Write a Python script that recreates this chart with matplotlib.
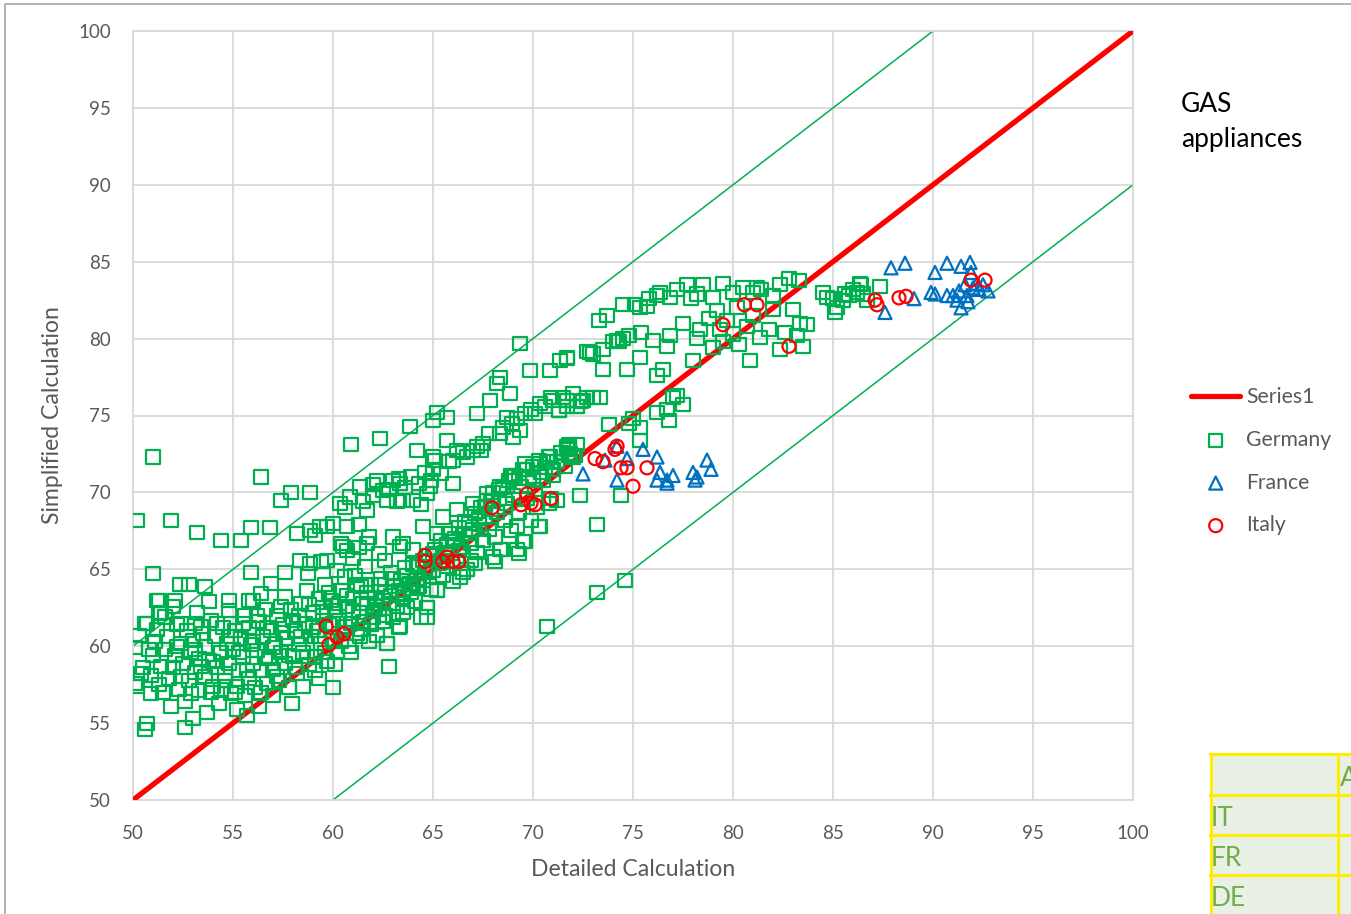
import matplotlib
matplotlib.use("Agg")
import matplotlib.pyplot as plt
from matplotlib.patches import Rectangle
from matplotlib.lines import Line2D
import numpy as np

plt.rcParams['font.family'] = ['Lato', 'DejaVu Sans']

# ---------------- data ----------------
ref_line_x = [50, 100]
ref_line_y = [50, 100]
upper_band_x = [50, 90]
upper_band_y = [60, 100]
lower_band_x = [60, 100]
lower_band_y = [50, 90]

de_blob_a = [(50.1,57.6),(50.2,57.4),(50.1,59.9),(50.3,60.7),(50.5,58.6),(50.6,61.5),(50.7,55.0),(50.6,54.6),
             (50.9,58.1),(51.0,59.4),(51.1,60.3),(51.2,61.1),(50.9,56.9),(51.3,57.5),(51.4,58.7),(51.3,62.1),
             (51.2,63.0),(51.6,59.8),(51.7,60.6),(51.8,57.9),(51.9,56.1),(52.0,58.6),(52.1,59.4),(52.2,61.4),
             (52.0,62.6),(52.3,57.2),(52.4,60.2),(52.5,58.9),(52.6,54.7),(52.6,56.4),(52.7,61.0),(52.9,59.6),
             (52.8,57.8),(53.0,55.3),(53.0,60.4),(53.1,58.3),(53.2,62.2),(53.3,57.1),(53.3,59.2),(53.4,61.3)]
de_blob_b = [(53.6,58.0),(53.6,60.0),(53.7,55.7),(53.8,59.1),(53.9,61.7),(53.8,62.9),(54.0,57.4),(54.1,60.6),
             (54.2,58.6),(54.3,56.3),(54.4,59.6),(54.5,61.2),(54.6,57.8),(54.7,60.2),(54.8,58.9),(54.8,62.3),
             (54.9,56.9),(55.0,59.8),(55.1,61.0),(55.2,57.4),(55.2,55.9),(55.3,58.4),(55.4,60.5),(55.5,59.3),
             (55.6,62.0),(55.6,56.8),(55.7,55.5),(55.8,57.9),(55.8,61.2),(55.9,60.1),(56.0,58.9),(56.0,63.0)]
de_blob_c = [(56.1,57.3),(56.2,59.7),(56.3,61.6),(56.3,56.1),(56.4,58.4),(56.5,60.6),(56.6,62.4),(56.7,57.6),
             (56.8,59.2),(56.9,61.0),(57.0,58.5),(57.0,56.8),(57.1,60.2),(57.2,62.0),(57.3,57.8),(57.4,59.6),
             (57.5,61.4),(57.6,58.9),(57.6,63.2),(57.7,60.5),(57.8,57.3),(57.9,62.4),(58.0,59.3),(57.95,56.3),
             (58.1,61.0),(58.2,58.2),(58.3,60.1),(58.4,62.8),(58.5,57.4),(58.5,59.6),(58.6,61.5),(58.7,63.6),
             (58.8,58.8),(58.9,60.6),(59.0,62.2)]
de_blob_d = [(59.1,59.3),(59.2,61.0),(59.3,63.1),(59.3,57.9),(59.4,60.2),(59.5,62.0),(59.6,64.0),(59.7,59.0),
             (59.8,61.4),(59.9,63.0),(60.0,57.3),(60.0,60.4),(60.1,62.3),(60.2,59.6),(60.3,61.7),(60.4,63.6),
             (60.5,60.9),(60.6,64.5),(60.7,62.6),(60.8,60.0),(60.9,61.5),(61.0,63.1),(61.1,64.6),(61.2,60.8),
             (61.3,62.2),(61.4,63.9),(61.5,61.6),(61.6,65.2),(61.7,62.8),(61.8,60.3),(61.9,64.0),(62.0,61.9)]
de_blob_e = [(50.4,58.2),(50.8,59.8),(51.5,57.0),(51.6,61.9),(52.2,60.0),(52.4,58.0),(52.9,56.9),(53.1,59.8),
             (53.4,58.7),(53.5,60.8),(53.9,57.0),(54.0,59.0),(54.2,61.5),(54.4,57.2),(54.6,58.2),(54.9,60.6),
             (55.1,57.0),(55.3,59.6),(55.5,61.5),(55.7,58.4),(56.0,60.3),(56.2,62.0),(56.4,57.0),(56.6,59.3),
             (56.7,61.2),(57.0,59.9),(57.2,58.0),(57.4,62.6),(57.5,60.9),(57.8,59.4),(58.0,61.7),(58.1,58.6),
             (58.3,62.0),(58.4,60.6),(58.7,59.3),(58.8,62.7),(59.0,61.2),(59.1,58.4),(59.3,60.6),(59.5,62.5),
             (59.6,59.6),(59.8,63.5),(60.0,61.5),(60.1,58.8),(60.3,62.8),(60.4,60.3),(60.6,61.3),(60.7,63.3),
             (60.9,59.6),(61.0,62.3),(61.2,64.0),(61.4,61.1),(61.5,62.8),(61.7,63.5),(61.9,61.4)]
de_diag = [(62.1,63.1),(62.2,60.7),(62.3,62.4),(62.4,64.4),(62.5,61.6),(62.6,63.5),(62.8,58.65),(62.7,60.2),
           (62.8,62.8),(62.9,64.8),(63.0,61.9),(63.1,63.9),(63.2,62.6),(63.3,61.2),(63.4,64.3),(63.5,63.2),
           (63.6,65.1),(63.7,62.5),(63.8,64.0),(63.9,63.5),(64.0,65.3),(64.1,62.9),(64.2,64.4),(64.3,63.9),
           (64.4,61.9),(64.5,65.6),(64.6,64.8),(64.7,62.5),(64.8,65.9),(64.9,63.7),(65.0,64.9),(65.1,66.3),
           (65.2,63.6),(65.3,65.4),(65.4,66.9),(65.5,64.6),(65.6,66.1),(65.7,65.2),(65.8,67.3),(65.9,66.0),
           (66.0,64.2),(66.1,67.0),(66.2,65.6),(66.3,67.7),(66.4,66.4),(66.5,64.8),(66.6,67.3),(66.7,65.0),
           (66.8,68.0),(66.9,66.7),(67.0,67.6),(67.1,68.6),(67.2,66.1),(67.3,67.9),(67.4,69.0),(67.5,66.9),
           (67.6,68.4),(67.7,69.5),(67.8,67.6),(67.9,68.9),(68.0,65.8),(68.0,70.0),(68.1,67.1),(68.2,68.7),
           (68.3,69.6),(68.4,66.3),(68.5,70.3),(68.6,68.2),(68.7,69.3),(68.8,70.8),(68.9,67.5),(69.0,69.8),
           (69.1,71.1),(69.2,66.3),(69.3,68.7),(69.4,70.4),(69.5,71.5),(69.6,66.8),(69.7,69.6),(69.8,70.9),
           (69.9,68.2),(70.0,71.7),(70.1,70.2),(70.2,69.0),(70.3,72.1),(70.35,67.8),(70.5,70.8),(70.6,71.6),
           (70.8,72.3),(70.9,69.6),(71.0,71.1),(71.2,72.0),(71.4,72.6),(71.6,71.7),(71.8,72.9),(72.0,72.3),
           (72.2,73.1)]
de_diag_b = [(62.1,62.6),(62.3,64.0),(62.5,63.0),(62.6,62.0),(62.9,63.3),(63.0,64.4),(63.3,63.6),(63.5,62.2),
             (63.7,64.6),(64.0,64.0),(64.2,65.2),(64.5,64.3),(64.8,64.8),(65.0,66.0),(65.4,65.6),(65.7,66.6),
             (66.0,66.8),(66.3,66.2),(66.6,68.1),(66.9,67.3),(67.3,68.3),(67.6,69.1),(67.9,69.4),(68.3,70.2),
             (68.6,69.6),(68.9,71.1),(69.3,70.9),(69.6,71.9),(70.0,70.8),(70.4,71.3),(70.7,72.0)]
de_middle = [(56.4,63.4),(56.9,64.1),(57.6,64.8),(58.35,65.6),(58.75,64.7),(58.85,65.4),(59.4,65.5),(59.7,65.6),
             (60.2,64.9),(60.7,66.25),(61.0,65.7),(61.7,66.7),(61.8,67.1),(62.3,66.0),(62.6,65.6),(63.0,67.1),
             (63.35,66.5),(63.5,66.7),(64.0,66.3),(64.5,67.8),(65.2,67.3),(65.5,68.4),(66.2,68.9),(67.0,69.3),
             (67.7,69.9),(68.35,70.4),(69.0,71.0),(69.7,71.5),(70.35,71.9),(70.85,72.3),(71.0,71.5),(71.7,73.0),
             (71.85,72.5),(71.7,72.8),(60.4,66.7),(60.5,66.5),(61.3,66.4)]
de_upper = [(58.2,67.3),(59.1,67.2),(58.85,67.55),(59.35,67.8),(59.7,67.8),(60.7,67.8),(61.3,67.9),(60.35,69.3),
            (60.85,69.7),(61.35,70.35),(61.7,68.85),(62.2,70.8),(62.5,70.15),(62.7,69.5),(63.0,70.8),(63.35,70.6),
            (63.5,69.5),(63.9,71.0),(64.0,69.5),(64.7,69.9),(64.85,70.4),(64.9,70.8),(65.0,71.5),(65.1,72.1),
            (64.2,72.75),(65.0,72.3),(65.7,73.4),(66.0,72.1),(66.0,70.6),(66.2,72.75),(66.7,72.3),(67.0,72.75),
            (67.4,72.75),(67.5,73.2),(68.35,73.8),(68.7,74.9),(68.95,74.5),(69.0,73.6),(69.35,74.05),(69.9,75.4),
            (70.35,75.8),(70.6,75.6),(71.0,76.0),(71.3,75.3),(71.7,75.6),(71.7,76.0),(72.2,75.6),(72.5,76.0),
            (72.7,76.2),(73.0,76.2),(73.35,76.2),(67.2,75.1),(65.7,74.9),(65.2,75.2),(65.0,74.7),(67.85,76.0),
            (68.85,76.4),(68.35,77.5),(69.85,77.95),(70.85,77.95),(71.35,78.6),(71.7,78.8),(72.7,79.15),
            (72.85,79.1),(62.0,69.8),(63.3,70.9),(64.4,69.2),(63.2,69.4)]
de_upper_b = [(60.0,68.0),(60.6,69.0),(61.5,69.4),(62.0,70.5),(62.8,70.2),(63.6,70.3),(64.3,70.6),(64.6,71.3),
              (65.4,71.2),(65.8,72.0),(66.5,72.6),(67.2,73.0),(67.8,73.8),(68.5,74.2),(69.2,74.8),(69.6,75.1),
              (70.1,75.1),(70.9,76.2),(71.5,76.2),(72.0,76.4),(72.4,75.9)]
de_outliers = [(50.2,68.2),(51.0,72.3),(51.0,64.7),(51.9,68.2),(53.2,67.4),(54.4,66.9),(55.4,66.9),(55.9,67.7),
               (56.85,67.7),(56.4,71.0),(57.4,69.5),(57.9,70.0),(58.85,70.0),(60.9,73.1),(62.35,73.5),(63.85,74.3),
               (69.35,79.7),(68.2,77.1),(51.3,63.0),(52.35,64.0),(52.8,64.0),(53.6,63.9),(52.1,63.0),(51.4,62.2),
               (50.7,61.5),(52.4,61.5),(53.1,61.5),(54.8,63.0),(55.8,63.0),(55.9,64.8),
               (73.2,63.5),(74.6,64.3),(70.7,61.3),(73.2,67.9),(72.35,69.8),(74.4,69.8),(71.2,69.5),(70.8,69.3),
               (70.3,67.8),(69.2,67.8),(69.3,66.0),(68.1,65.5),(67.1,65.4),(66.7,65.0),(66.9,65.6),(68.35,66.3),
               (69.5,66.8),(64.7,61.9),(64.7,62.5),(63.35,61.3),(62.2,60.7),(61.35,60.6),(62.7,60.2),(63.85,64.1),
               (65.2,63.65),(66.35,64.5),(64.2,63.9)]
de_top_right = [(73.3,81.2),(73.7,81.5),(74.2,79.9),(74.5,80.0),(74.5,82.2),(75.1,82.2),(75.35,82.0),(75.7,82.1),
                (75.8,82.6),(76.2,82.8),(76.35,83.0),(76.85,82.7),(77.2,83.2),(77.7,83.5),(77.9,82.6),(78.2,82.9),
                (78.5,83.5),(79.0,82.7),(79.5,83.6),(80.0,83.0),(80.5,83.3),(81.0,83.0),(81.2,83.3),(81.4,83.2),
                (82.0,82.8),(82.35,83.5),(82.8,83.9),(83.3,83.8),(73.0,79.0),(73.5,79.3),(74.0,79.8),(74.8,80.2)]
de_mid_right = [(74.3,79.8),(72.85,79.1),(75.35,78.8),(76.7,79.5),(76.85,80.2),(78.2,80.0),(78.0,78.6),(78.35,80.6),
                (79.35,80.6),(80.0,80.3),(80.7,80.8),(80.85,78.6),(79.7,81.2),(81.35,80.1),(82.35,79.3),(83.35,81.0),
                (83.5,79.5),(83.7,80.9),(83.0,81.9),(82.0,81.9),(75.4,80.4),(76.0,79.9),(73.5,78.0),(74.7,78.0),
                (76.2,77.6),(76.5,78.0),(71.7,78.7),(79.0,79.4),(79.5,79.8),(80.3,79.6),(81.0,81.5),(81.8,80.6),
                (82.6,80.4),(83.2,80.2),(79.2,81.8),(80.2,82.0),(77.5,81.0),(78.8,81.3)]
de_near_line = [(77.0,76.2),(77.5,75.7),(76.7,75.4),(76.8,74.7),(76.2,75.2),(75.0,74.8),(74.8,74.5),(75.35,74.2),
                (73.8,74.4),(75.35,73.4),(77.2,76.3),(71.8,73.1),(71.8,72.4),(72.1,72.4),(71.7,76.0),(72.2,75.6),
                (71.3,75.3)]
de_far_right = [(84.7,82.7),(85.0,82.6),(85.2,82.0),(85.1,81.7),(86.0,83.2),(86.4,83.5),(86.35,83.6),(85.8,82.8),
                (86.5,82.9),(87.35,83.4),(86.7,82.5),(85.5,82.5),(84.5,83.0),(86.2,83.0),(85.6,82.9)]

france_x = [72.5, 73.6, 74.2, 74.7, 75.5, 74.2, 76.2, 76.35, 76.7, 77.0, 76.7, 78.0, 78.1, 78.7, 78.9, 78.2, 76.2,
            87.9, 88.6, 87.6, 89.05, 90.1, 90.7, 89.9, 90.1, 90.7, 91.4, 91.85, 91.9, 91.3, 91.4, 91.2, 91.7,
            92.0, 92.2, 92.5, 92.75, 91.6, 91.75, 92.3, 91.0]
france_y = [71.2, 72.1, 73.0, 72.2, 72.8, 70.8, 72.3, 71.3, 70.8, 71.1, 70.6, 71.3, 70.8, 72.1, 71.5, 71.0, 70.8,
            84.6, 84.9, 81.7, 82.6, 84.3, 84.9, 83.0, 82.9, 82.8, 84.7, 84.95, 84.3, 83.1, 82.0, 82.5, 82.8,
            83.3, 83.6, 83.5, 83.1, 83.5, 82.4, 83.2, 82.8]

italy_x = [87.1, 87.2, 88.3, 88.65, 91.9, 92.6, 80.57, 81.2, 79.5, 82.8, 74.2, 74.1, 73.1, 73.5, 74.4, 74.7,
           75.7, 75.0, 70.9, 69.7, 69.4, 69.9, 70.1, 67.95, 64.6, 64.6, 65.7, 65.5, 66.0, 66.3,
           59.65, 59.8, 60.2, 60.55]
italy_y = [82.5, 82.2, 82.65, 82.75, 83.8, 83.8, 82.2, 82.2, 80.9, 79.5, 73.0, 72.8, 72.2, 72.0, 71.6, 71.6,
           71.6, 70.4, 69.6, 69.9, 69.2, 69.3, 69.2, 69.0, 65.9, 65.5, 65.8, 65.5, 65.5, 65.5,
           61.3, 60.1, 60.6, 60.8]

x_ticks = [50, 55, 60, 65, 70, 75, 80, 85, 90, 95, 100]
y_ticks = [50, 55, 60, 65, 70, 75, 80, 85, 90, 95, 100]
table_rows = ["IT", "FR", "DE"]
table_header = "A"

germany = (de_blob_a + de_blob_b + de_blob_c + de_blob_d + de_blob_e + de_diag + de_diag_b + de_middle +
           de_upper + de_upper_b + de_outliers + de_top_right + de_mid_right + de_near_line + de_far_right)
germany_x = [p[0] for p in germany]
germany_y = [p[1] for p in germany]

# ---------------- figure ----------------
W, H = 1351, 914
fig = plt.figure(figsize=(W / 100, H / 100), dpi=100)
ax = fig.add_axes([133 / W, 1 - 800 / H, 1000 / W, 769 / H])

GREEN = '#00b050'
BLUE = '#0070c0'
RED = '#ff0000'
GRID = '#d9d9d9'
TXT = '#595959'

ax.plot(upper_band_x, upper_band_y, color=GREEN, lw=1.1, zorder=2, solid_capstyle='butt')
ax.plot(lower_band_x, lower_band_y, color=GREEN, lw=1.1, zorder=2, solid_capstyle='butt')
ax.plot(ref_line_x, ref_line_y, color=RED, lw=3.8, zorder=3, label='Series1', solid_capstyle='round')

ms = 9.4
lw_m = 1.6
ax.scatter(germany_x, germany_y, s=ms ** 2, marker='s', facecolors='none', edgecolors=GREEN,
           linewidths=lw_m, zorder=4, label='Germany')
ax.scatter(france_x, france_y, s=ms ** 2, marker='^', facecolors='none', edgecolors=BLUE,
           linewidths=lw_m, zorder=5, label='France')
ax.scatter(italy_x, italy_y, s=ms ** 2, marker='o', facecolors='none', edgecolors=RED,
           linewidths=lw_m, zorder=6, label='Italy')

ax.set_xlim(50, 100)
ax.set_ylim(50, 100)
ax.set_xticks(x_ticks)
ax.set_yticks(y_ticks)
ax.grid(True, color=GRID, lw=1.3, zorder=0)
ax.set_axisbelow(True)
for s in ax.spines.values():
    s.set_color(GRID)
    s.set_linewidth(1.3)
ax.tick_params(length=0, labelsize=13.5, labelcolor=TXT)
ax.tick_params(axis='x', pad=18)
ax.tick_params(axis='y', pad=16)
ax.set_xlabel('Detailed Calculation', fontsize=16.6, color=TXT, labelpad=12)
ax.set_ylabel('Simplified Calculation', fontsize=16.6, color=TXT, labelpad=11)

leg = ax.legend(loc='upper left', bbox_to_anchor=(1050 / 1000, (800 - 379) / 769), frameon=False,
                fontsize=15.2, handlelength=2.3, handletextpad=0.3, labelspacing=1.07,
                borderaxespad=0, labelcolor=TXT)

# overlay for decorations in pixel coordinates
ov = fig.add_axes([0, 0, 1, 1], zorder=10)
ov.set_xlim(0, W)
ov.set_ylim(H, 0)
ov.axis('off')
ov.patch.set_alpha(0)

ov.text(1181, 105, 'GAS', fontsize=19, color='black', va='center', ha='left')
ov.text(1181, 139, 'appliances', fontsize=19, color='black', va='center', ha='left')

# chart border
ov.add_line(Line2D([5, 5, W + 5], [H + 5, 3.5, 3.5], color='#a6a6a6', lw=1.2))

# table fragment
ov.add_patch(Rectangle((1210, 754), 200, 200, facecolor='#e9f0e6', edgecolor='none'))
YEL = '#ffee00'
for yy in [754, 795, 835, 875]:
    ov.add_line(Line2D([1210, W + 5], [yy, yy], color=YEL, lw=2.2))
for xx in [1211, 1338]:
    ov.add_line(Line2D([xx, xx], [754, H + 5], color=YEL, lw=2.2))
TG = '#70ad47'
ov.text(1340, 778, table_header, fontsize=19, color=TG, va='center', ha='left')
for i, lab in enumerate(table_rows):
    ov.text(1211, 818 + 40 * i, lab, fontsize=19, color=TG, va='center', ha='left')

fig.savefig('out.png', dpi=100)
